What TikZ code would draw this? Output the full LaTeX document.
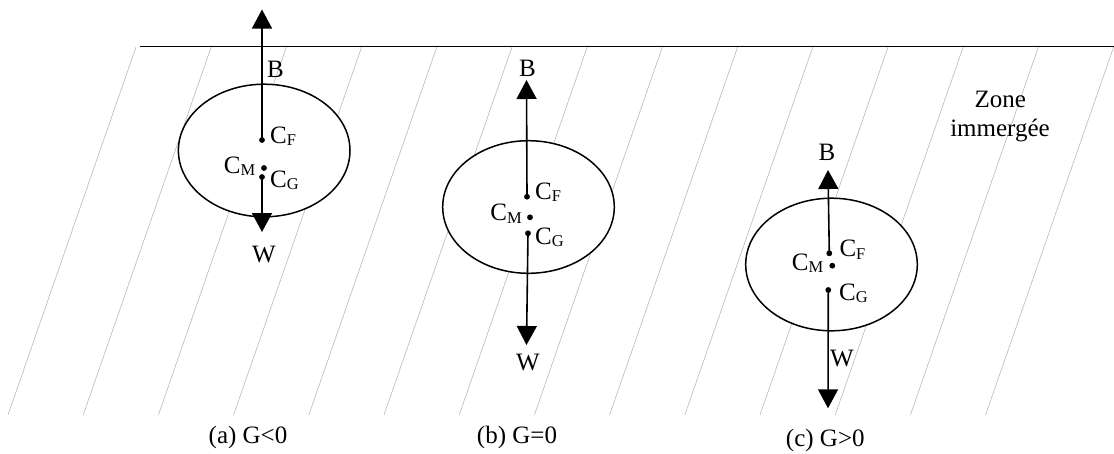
\documentclass[tikz,border=0pt]{standalone}
\usepackage{fontspec}
\setmainfont{Liberation Serif}
\usetikzlibrary{arrows.meta,shapes.geometric}
\newcommand{\Csb}[1]{C\raisebox{-2.6pt}{\fontsize{16.5}{18}\selectfont #1}}
\tikzset{
  hatchline/.style={draw=black!28, line width=0.6pt},
  surfline/.style={draw=black, line width=1.4pt},
  body/.style={draw=black, ellipse, fill=white, line width=1.5pt, inner sep=0pt,
               minimum width=171.6pt, minimum height=132.6pt},
  force/.style={draw=black, line width=1.6pt, -{Triangle[length=19pt,width=20pt]}},
  cpt/.style={circle, fill=black, inner sep=0pt, minimum size=5.8pt},
  lbl/.style={inner sep=0pt, font=\fontsize{25}{30}\selectfont},
  captxt/.style={inner sep=0pt, font=\fontsize{25}{30}\selectfont},
}
\begin{document}
\begin{tikzpicture}[x=1pt,y=-1pt]
\useasboundingbox (0,0) rectangle (1114,453);
% hatching of the immersed zone
\begin{scope}
\clip (0,0) rectangle (1114,453);
\foreach \k in {0,...,13}{
  \draw[hatchline] ({136+75.2*\k},47) -- ({8+75.2*\k},415);
}
\end{scope}
% free surface
\draw[surfline] (140,46.7) -- (1114,46.7);
% bodies
\node[body] (ea) at (264.2,150.5) {};
\node[body] (eb) at (528.5,207) {};
\node[body] (ec) at (831.5,264.5) {};
% ---- (a)
\node[cpt] (aF) at (262,140) {};
\node[cpt] (aM) at (264,168) {};
\node[cpt] (aG) at (262,177) {};
\coordinate (aBt) at (262,9.5);
\coordinate (aWt) at (262,232);
\draw[force] (aF.center) -- (aBt);
\draw[force] (aG.center) -- (aWt);
\node[lbl, anchor=base west] (aFl) at (270,143) {\Csb{F}};
\node[lbl, anchor=base east] (aMl) at (255.5,173) {\Csb{M}};
\node[lbl, anchor=base west] (aGl) at (270,187) {\Csb{G}};
\node[lbl, anchor=base west] (aBl) at (267,77) {B};
\node[lbl, anchor=base] (aWl) at (264,262) {W};
\node[captxt, anchor=base] (acap) at (248,443.3) {(a) G<0};
% ---- (b)
\node[cpt] (bF) at (527,196.7) {};
\node[cpt] (bM) at (530,217.3) {};
\node[cpt] (bG) at (528,233.3) {};
\coordinate (bBt) at (526.5,80);
\coordinate (bWt) at (526.5,345);
\draw[force] (bF.center) -- (bBt);
\draw[force] (bG.center) -- (bWt);
\node[lbl, anchor=base west] (bFl) at (535,199) {\Csb{F}};
\node[lbl, anchor=base east] (bMl) at (522,220.7) {\Csb{M}};
\node[lbl, anchor=base west] (bGl) at (535,244) {\Csb{G}};
\node[lbl, anchor=base] (bBl) at (527.5,76) {B};
\node[lbl, anchor=base] (bWl) at (528,370) {W};
\node[captxt, anchor=base] (bcap) at (517,443) {(b) G=0};
% ---- (c)
\node[cpt] (cF) at (829.3,253.3) {};
\node[cpt] (cM) at (832.3,265.7) {};
\node[cpt] (cG) at (828.3,290) {};
\coordinate (cBt) at (828,170);
\coordinate (cWt) at (828,408.3);
\draw[force] (cF.center) -- (cBt);
\draw[force] (cG.center) -- (cWt);
\node[lbl, anchor=base west] (cFl) at (839.3,256.7) {\Csb{F}};
\node[lbl, anchor=base east] (cMl) at (823.5,270) {\Csb{M}};
\node[lbl, anchor=base west] (cGl) at (839,300) {\Csb{G}};
\node[lbl, anchor=base] (cBl) at (827,160.7) {B};
\node[lbl, anchor=base west] (cWl) at (830,366.7) {W};
\node[captxt, anchor=base] (ccap) at (825.3,446.7) {(c) G>0};
% ---- zone label
\node[lbl, anchor=base] (zone1) at (1000.3,107.3) {Zone};
\node[lbl, anchor=base] (zone2) at (1000,136.7) {immergée};
\end{tikzpicture}
\end{document}
